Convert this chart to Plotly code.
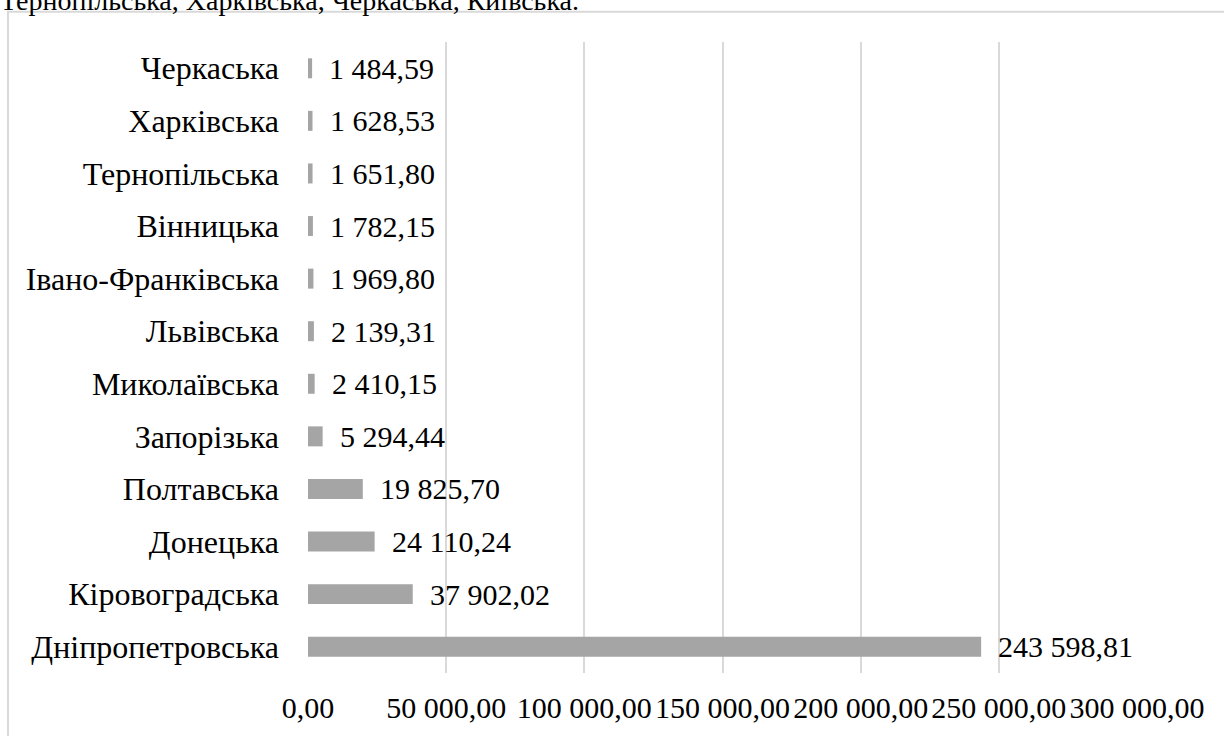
import plotly.graph_objects as go

categories = ["Дніпропетровська", "Кіровоградська", "Донецька", "Полтавська", "Запорізька",
              "Миколаївська", "Львівська", "Івано-Франківська", "Вінницька", "Тернопільська",
              "Харківська", "Черкаська"]
values = [243598.81, 37902.02, 24110.24, 19825.70, 5294.44, 2410.15, 2139.31, 1969.80,
          1782.15, 1651.80, 1628.53, 1484.59]
tick_vals = [0, 50000, 100000, 150000, 200000, 250000, 300000]
tick_text = ["0,00", "50 000,00", "100 000,00", "150 000,00", "200 000,00", "250 000,00", "300 000,00"]
header_text = "Тернопільська, Харківська, Черкаська, Київська."

def fmt(v):
    s = f"{v:,.2f}"
    return s.replace(",", " ").replace(".", ",")

W, H = 1224, 736
L, R, T, B = 308, 1137, 42, 677
FONT = "'Times New Roman', Tinos, 'Liberation Serif', 'Noto Serif', 'DejaVu Serif', serif"

def px(xp):
    return (xp - L) / (R - L)

def py(yp):
    return (B - yp) / (B - T)

fig = go.Figure(go.Bar(
    x=values, y=categories, orientation="h",
    marker=dict(color="#A5A5A5", line=dict(width=0)),
    width=0.38, hoverinfo="skip"))

annotations = [dict(x=v, y=c, xref="x", yref="y", text=fmt(v), showarrow=False,
                    xanchor="left", xshift=15, font=dict(family=FONT, size=30, color="#000000"))
               for c, v in zip(categories, values)]
annotations.append(dict(x=px(-2), y=py(18), xref="paper", yref="paper", text=header_text,
                        showarrow=False, xanchor="left", yanchor="bottom",
                        font=dict(family=FONT, size=28, color="#000000")))

fig.update_layout(
    width=W, height=H,
    margin=dict(l=L, r=W - R, t=T, b=H - B, pad=0),
    paper_bgcolor="white", plot_bgcolor="white",
    showlegend=False,
    font=dict(family=FONT, size=30, color="#000000"),
    annotations=annotations,
    shapes=[dict(type="rect", xref="paper", yref="paper",
                 x0=px(8), x1=px(1232), y0=py(745), y1=py(11.5),
                 line=dict(color="#D9D9D9", width=2), fillcolor="rgba(0,0,0,0)", layer="below")],
    xaxis=dict(range=[0, 300000], tickvals=tick_vals, ticktext=tick_text,
               showgrid=True, gridcolor="#D9D9D9", gridwidth=2, zeroline=False,
               showline=False, ticks="", ticklabelstandoff=14,
               tickfont=dict(family=FONT, size=30, color="#000000")),
    yaxis=dict(categoryorder="array", categoryarray=categories, showgrid=False,
               zeroline=False, showline=False, ticks="", ticklabelstandoff=28,
               tickfont=dict(family=FONT, size=32, color="#000000")),
)

fig.write_html("out.html")
